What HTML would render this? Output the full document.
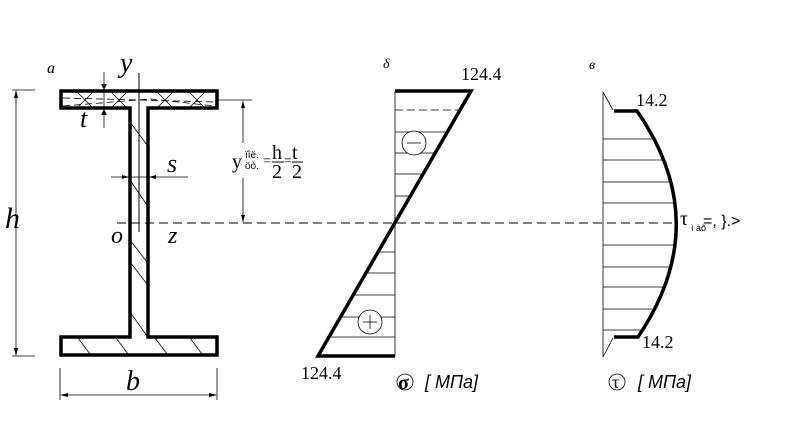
<!DOCTYPE html>
<html><head><meta charset="utf-8"><style>
html,body{margin:0;padding:0;background:#fff;}
svg{display:block;}
text{font-family:"Liberation Serif",serif;fill:#000;}
.s{font-family:"Liberation Sans",sans-serif;}
</style></head><body>
<svg width="786" height="444" viewBox="0 0 786 444" xmlns="http://www.w3.org/2000/svg">
<!-- I-beam -->
<path d="M61,91 H217 V108 H148 V337 H217 V355 H61 V337 H130 V108 H61 Z" fill="none" stroke="#000" stroke-width="3.5"/>
<g stroke="#000" stroke-width="0.8" fill="none">
<line x1="130" y1="122" x2="147" y2="145"/><line x1="130" y1="180" x2="147" y2="205"/>
<line x1="130" y1="240" x2="147" y2="262"/><line x1="130" y1="262" x2="147" y2="284"/>
<line x1="130" y1="312" x2="147" y2="336"/>
<line x1="78" y1="338" x2="90" y2="354"/><line x1="116" y1="338" x2="128" y2="354"/>
<line x1="155" y1="338" x2="167" y2="354"/><line x1="190" y1="338" x2="202" y2="354"/>
<line x1="78" y1="93" x2="92" y2="107"/><line x1="92" y1="93" x2="78" y2="107"/>
<line x1="112" y1="93" x2="126" y2="107"/><line x1="126" y1="93" x2="112" y2="107"/>
<line x1="158" y1="93" x2="172" y2="107"/><line x1="172" y1="93" x2="158" y2="107"/>
<line x1="190" y1="93" x2="204" y2="107"/><line x1="204" y1="93" x2="190" y2="107"/>
</g>
<g stroke="#000" stroke-width="0.8" stroke-dasharray="7,4">
<line x1="63" y1="98" x2="215" y2="102"/><line x1="63" y1="106" x2="150" y2="99"/><line x1="150" y1="99" x2="215" y2="106"/>
</g>
<line x1="139" y1="73" x2="139" y2="232" stroke="#000" stroke-width="1"/>
<line x1="104" y1="72" x2="104" y2="128" stroke="#000" stroke-width="0.8"/>
<path d="M101,84 L104,90 L107,84z M101,115 L104,109 L107,115z" fill="#000"/>
<line x1="111" y1="177" x2="188" y2="177" stroke="#000" stroke-width="0.8"/>
<path d="M122,175 L129,177 L122,179z M156,175 L149,177 L156,179z" fill="#000"/>
<line x1="12" y1="90" x2="35" y2="90" stroke="#000" stroke-width="0.8"/>
<line x1="12" y1="356" x2="35" y2="356" stroke="#000" stroke-width="0.8"/>
<line x1="16" y1="91" x2="16" y2="355" stroke="#000" stroke-width="0.8"/>
<path d="M14,98 L16,90 L18,98z M14,348 L16,356 L18,348z" fill="#000"/>
<line x1="60" y1="368" x2="60" y2="400" stroke="#000" stroke-width="0.8"/>
<line x1="217" y1="368" x2="217" y2="400" stroke="#000" stroke-width="0.8"/>
<line x1="61" y1="395" x2="216" y2="395" stroke="#000" stroke-width="0.8"/>
<path d="M68,393 L60,395 L68,397z M209,393 L217,395 L209,397z" fill="#000"/>
<line x1="217" y1="100" x2="252" y2="100" stroke="#000" stroke-width="0.8"/>
<line x1="243" y1="101" x2="243" y2="143" stroke="#000" stroke-width="0.8"/>
<line x1="243" y1="178" x2="243" y2="222" stroke="#000" stroke-width="0.8"/>
<path d="M241,108 L243,101 L245,108z M241,215 L243,222 L245,215z" fill="#000"/>
<line x1="117" y1="223" x2="678" y2="223" stroke="#000" stroke-width="1" stroke-dasharray="9,5"/>
<!-- sigma -->
<g stroke="#000" stroke-width="0.8">
<line x1="395" y1="91" x2="395" y2="356"/>
<line x1="395" y1="110" x2="460" y2="110" stroke-dasharray="8,4"/>
<line x1="395" y1="132" x2="447" y2="132"/><line x1="395" y1="153" x2="435" y2="153"/>
<line x1="395" y1="174" x2="423" y2="174"/><line x1="395" y1="196" x2="410" y2="196"/>
<line x1="378" y1="252" x2="395" y2="252"/><line x1="366" y1="273" x2="395" y2="273"/>
<line x1="353" y1="295" x2="395" y2="295"/><line x1="340" y1="317" x2="395" y2="317"/>
<line x1="329" y1="337" x2="395" y2="337"/>
</g>
<path d="M395,91 H471 L318,356 H395" fill="none" stroke="#000" stroke-width="3.5"/>
<circle cx="414" cy="143" r="12" fill="#fff" stroke="#000" stroke-width="0.8"/>
<line x1="407" y1="143" x2="421" y2="143" stroke="#000" stroke-width="0.8"/>
<circle cx="370" cy="322" r="12" fill="#fff" stroke="#000" stroke-width="0.8"/>
<line x1="363" y1="322" x2="377" y2="322" stroke="#000" stroke-width="0.8"/><line x1="370" y1="315" x2="370" y2="329" stroke="#000" stroke-width="0.8"/>
<!-- tau -->
<g stroke="#000" stroke-width="0.8">
<line x1="603" y1="92" x2="603" y2="357"/>
<line x1="603" y1="92" x2="613" y2="110"/><line x1="603" y1="357" x2="613" y2="338"/>
<line x1="603" y1="139" x2="655" y2="139"/><line x1="603" y1="160" x2="664" y2="160"/>
<line x1="603" y1="182" x2="671" y2="182"/><line x1="603" y1="203" x2="675" y2="203"/>
<line x1="603" y1="245" x2="675" y2="245"/><line x1="603" y1="267" x2="670" y2="267"/>
<line x1="603" y1="287" x2="663" y2="287"/><line x1="603" y1="309" x2="652" y2="309"/>
<line x1="603" y1="330" x2="641" y2="330"/>
</g>
<path d="M614,111 H637 Q715,223 638,337 H614" fill="none" stroke="#000" stroke-width="3.5"/>
<!-- labels -->
<text x="47" y="73" font-size="16" font-style="italic">a</text>
<text x="120" y="72" font-size="28" font-style="italic">y</text>
<text x="80" y="127" font-size="26" font-style="italic">t</text>
<text x="167" y="172" font-size="26" font-style="italic">s</text>
<text x="5" y="228" font-size="30" font-style="italic">h</text>
<text x="111" y="243" font-size="24" font-style="italic">o</text>
<text x="168" y="243" font-size="24" font-style="italic">z</text>
<text x="126" y="390" font-size="28" font-style="italic">b</text>
<text x="232" y="168" font-size="20">y</text>
<text x="245" y="158" font-size="10" class="s">ïîë.</text>
<text x="245" y="169" font-size="10" class="s">öò.</text>
<text x="263" y="165" font-size="14">=</text>
<text x="272" y="159" font-size="20">h</text><line x1="272" y1="162" x2="284" y2="162" stroke="#000"/>
<text x="272" y="178" font-size="20">2</text>
<text x="284" y="165" font-size="14">=</text>
<text x="292" y="159" font-size="20">t</text><line x1="292" y1="162" x2="303" y2="162" stroke="#000"/>
<text x="292" y="178" font-size="20">2</text>
<text x="383" y="68" font-size="14" font-style="italic">δ</text>
<text x="461" y="80" font-size="18">124.4</text>
<text x="301" y="379" font-size="18">124.4</text>
<text x="398" y="389" font-size="20" font-weight="bold">σ</text>
<circle cx="405" cy="382" r="8" fill="none" stroke="#000" stroke-width="0.8"/>
<text x="425" y="388" font-size="18" class="s" font-style="italic">[ МПа]</text>
<text x="589" y="69" font-size="14" font-style="italic">в</text>
<text x="636" y="106" font-size="18">14.2</text>
<text x="642" y="348" font-size="18">14.2</text>
<text x="680" y="225" font-size="20">τ</text>
<text x="691" y="231" font-size="9" class="s">ì àõ</text>
<text x="703" y="226" font-size="16" class="s">=, }.&gt;</text>
<text x="612" y="388" font-size="18">τ</text>
<circle cx="617" cy="382" r="8" fill="none" stroke="#000" stroke-width="0.8"/>
<text x="638" y="388" font-size="18" class="s" font-style="italic">[ МПа]</text>
</svg>
</body></html>
